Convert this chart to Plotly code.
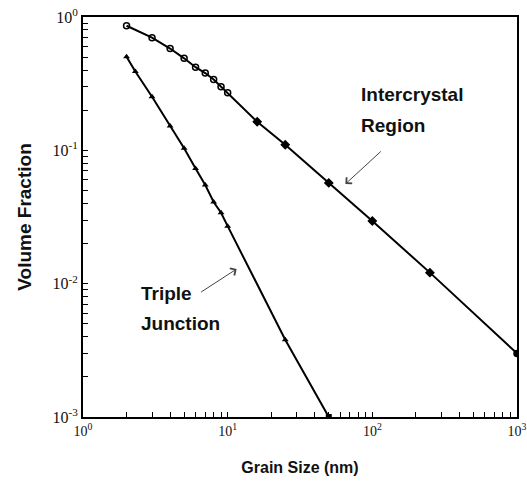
import numpy as np
import plotly.graph_objects as go

# Data
inter_x = [2, 3, 4, 5, 6, 7, 8, 9, 10, 16, 25, 50, 100, 250, 1000]
inter_y = [0.86, 0.70, 0.58, 0.49, 0.42, 0.38, 0.34, 0.30, 0.27, 0.164, 0.11, 0.057, 0.0295, 0.0121, 0.003]
inter_sym = ["circle-open"] * 9 + ["diamond"] * 5 + ["circle"]

triple_x = [2, 2.3, 3, 4, 5, 6, 7, 8, 9, 10, 25, 50]
triple_y = [0.504, 0.39, 0.252, 0.152, 0.1035, 0.073, 0.055, 0.041, 0.034, 0.027, 0.0038, 0.001]
triple_sym = ["triangle-up"] * 11 + ["square"]

x_decades = [1, 10, 100, 1000]
x_labels = ["10<sup>0</sup>", "10<sup>1</sup>", "10<sup>2</sup>", "10<sup>3</sup>"]
y_decades = [0.001, 0.01, 0.1, 1]
y_labels = ["10<sup>-3</sup>", "10<sup>-2</sup>", "10<sup>-1</sup>", "10<sup>0</sup>"]


def log_ticks(decades, labels):
    vals, texts = [], []
    for i, d in enumerate(decades):
        vals.append(d)
        texts.append(labels[i])
        if i < len(decades) - 1:
            for m in range(2, 10):
                vals.append(d * m)
                texts.append("")
    return vals, texts


xtv, xtt = log_ticks(x_decades, x_labels)
ytv, ytt = log_ticks(y_decades, y_labels)

fig = go.Figure()
fig.add_trace(go.Scatter(
    x=inter_x, y=inter_y, mode="lines+markers",
    line=dict(color="black", width=2),
    marker=dict(symbol=inter_sym, size=6, color="black", line=dict(color="black", width=1.5)),
    showlegend=False))
fig.add_trace(go.Scatter(
    x=triple_x, y=triple_y, mode="lines+markers",
    line=dict(color="black", width=2),
    marker=dict(symbol=triple_sym, size=6, color="black"),
    showlegend=False))

axis_common = dict(
    type="log", showgrid=False, zeroline=False,
    showline=True, linecolor="black", linewidth=2, mirror=True,
    ticks="inside", ticklen=5, tickwidth=1, tickcolor="black",
    automargin=False, ticklabeloverflow="allow",
)
fig.update_xaxes(range=[0, 3], tickvals=xtv, ticktext=xtt, **axis_common,
                 tickfont=dict(family="Liberation Serif", size=14, color="#111"),
                 title=dict(text="<b>Grain Size (nm)</b>",
                            font=dict(family="Liberation Sans", size=16, color="#111"),
                            standoff=24))
fig.update_yaxes(range=[-3, 0], tickvals=ytv, ticktext=ytt, **axis_common,
                 tickfont=dict(family="Liberation Serif", size=16, color="#111"),
                 title=dict(text="<b>Volume Fraction</b>",
                            font=dict(family="Liberation Sans", size=19, color="#111"),
                            standoff=16))

tfont = dict(family="Liberation Sans", size=19, color="#111")
for txt, xp, yp in [("<b>Intercrystal</b>", 0.637, 0.805), ("<b>Region</b>", 0.637, 0.7275),
                    ("<b>Triple</b>", 0.129, 0.31), ("<b>Junction</b>", 0.129, 0.235)]:
    fig.add_annotation(x=xp, y=yp, xref="paper", yref="paper", text=txt,
                       showarrow=False, xanchor="left", yanchor="middle", font=tfont)

for xp, yp, ax, ay in [(0.6046, 0.5825, 37, -34), (0.354, 0.37, -37, 24)]:
    fig.add_annotation(x=xp, y=yp, xref="paper", yref="paper", text="",
                       showarrow=True, ax=ax, ay=ay, arrowhead=4, arrowsize=1.6,
                       arrowwidth=1, arrowcolor="#444")

fig.update_layout(
    width=527, height=486,
    margin=dict(l=83, r=10, t=17, b=69),
    paper_bgcolor="white", plot_bgcolor="white",
)
fig.write_html("out.html")
